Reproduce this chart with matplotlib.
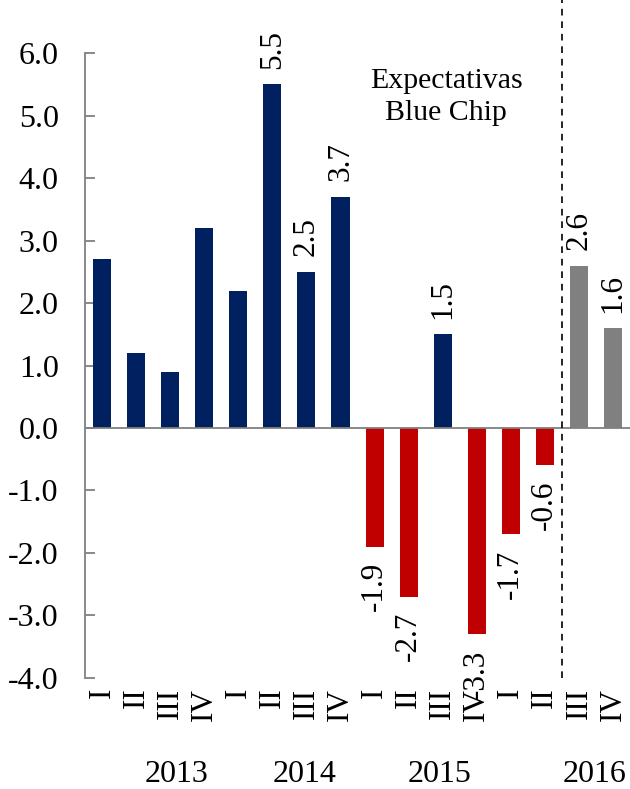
import matplotlib
matplotlib.use('Agg')
import matplotlib.pyplot as plt

# --- Datos ---
quarters = ["I", "II", "III", "IV"] * 4
years = ["2013", "2014", "2015", "2016"]
values = [2.7, 1.2, 0.9, 3.2, 2.2, 5.5, 2.5, 3.7,
          -1.9, -2.7, 1.5, -3.3, -1.7, -0.6, 2.6, 1.6]
# barras con etiqueta de valor
labelled = [5, 6, 7, 8, 9, 10, 11, 12, 13, 14, 15]
forecast_start = 14  # Expectativas Blue Chip

NAVY = '#002060'
RED = '#C00000'
GRAY = '#808080'

plt.rcParams['font.family'] = ['Liberation Serif', 'DejaVu Serif']

fig = plt.figure(figsize=(6.3, 7.89), dpi=100)
ax = fig.add_axes([0.135, 0.1407, 0.865, 0.7921])

x = list(range(len(values)))
colors = []
for i, v in enumerate(values):
    if i >= forecast_start:
        colors.append(GRAY)
    elif v < 0:
        colors.append(RED)
    else:
        colors.append(NAVY)
ax.bar(x, values, width=0.53, color=colors, zorder=2)

for i in labelled:
    v = values[i]
    ax.annotate(f"{v:.1f}", (i, v), xytext=(0, 11 if v > 0 else -11),
                textcoords='offset points', rotation=90, ha='center',
                va='bottom' if v > 0 else 'top', fontsize=22.5)

ax.axhline(0, color=GRAY, lw=1.3, zorder=3)
ax.plot([forecast_start - 0.5] * 2, [-4, 6.85], color='black', lw=1.2,
        ls=(0, (4, 3.5)), clip_on=False, zorder=3)
ax.text(10.1, 5.3, "Expectativas\nBlue Chip", ha='center', va='center',
        fontsize=21.5, linespacing=1.3)

ax.set_xlim(-0.5, len(values) - 0.5)
ax.set_ylim(-4, 6)
ax.set_yticks(range(-4, 7))
ax.set_yticklabels([f"{t:.1f}" for t in range(-4, 7)], fontsize=23)
ax.set_xticks(x)
ax.set_xticklabels(quarters, rotation=90, fontsize=22.5)
ax.tick_params(axis='x', length=0, pad=7)
ax.tick_params(axis='y', direction='in', length=7, color=GRAY, width=1.3, pad=19)

for side in ['top', 'right', 'bottom']:
    ax.spines[side].set_visible(False)
ax.spines['left'].set_color(GRAY)
ax.spines['left'].set_linewidth(1.3)

year_pos = [2.2, 5.95, 9.9, 14.45]
for xp, yr in zip(year_pos, years):
    ax.text(xp, -5.55, yr, ha='center', va='center', fontsize=23)

plt.savefig('out.png', dpi=100)
plt.close(fig)
